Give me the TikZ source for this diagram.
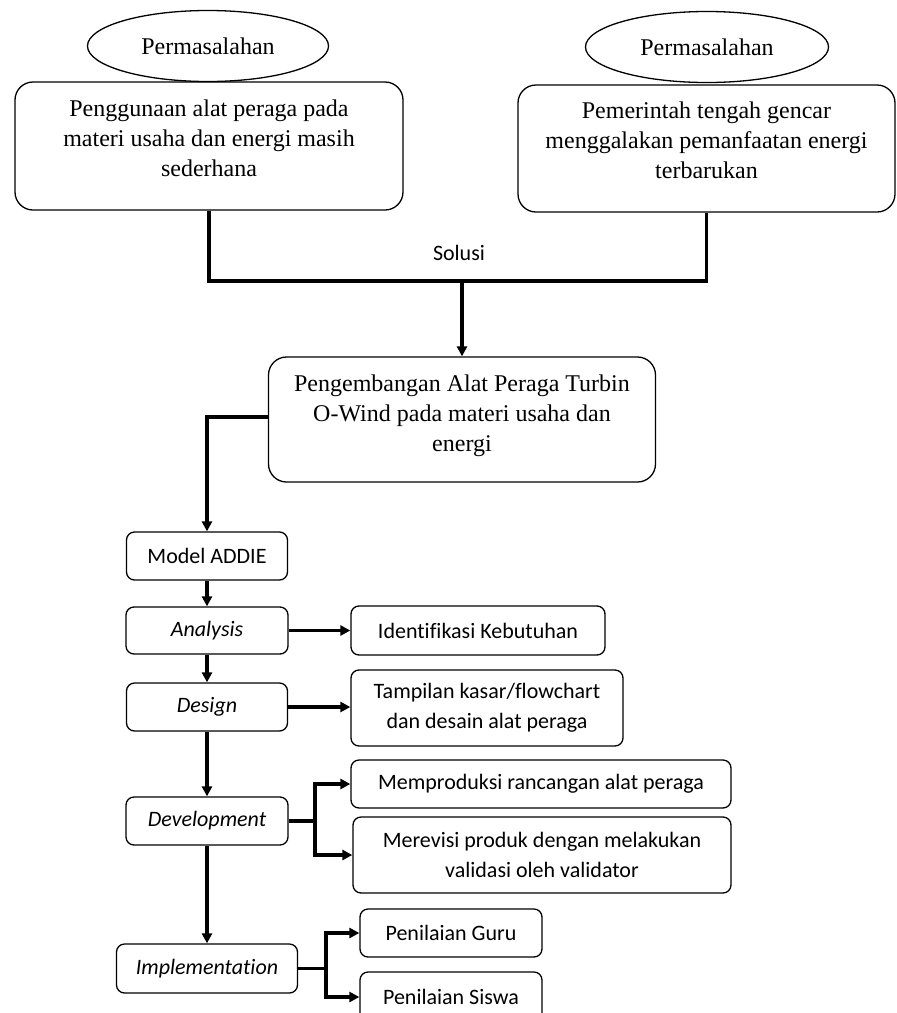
\documentclass[tikz,border=0pt]{standalone}
\usepackage{fontspec}
\setmainfont{Liberation Serif}
\newfontfamily\calib{Carlito}[Ligatures=NoCommon]
\usetikzlibrary{shapes.geometric,arrows.meta}
\newcommand{\liftup}[2]{\raisebox{#1}[\height][\depth]{\begin{tabular}{@{}c@{}}#2\end{tabular}}}
\tikzset{
  bigbox/.style={draw, line width=1.3pt, rounded corners=18pt, align=center,
    font=\fontsize{24}{30}\selectfont, inner sep=0pt},
  smallbox/.style={draw, line width=1.3pt, rounded corners=8pt, align=center,
    font=\calib\fontsize{22}{30}\selectfont, inner sep=0pt},
  oval/.style={draw, ellipse, line width=1.3pt, inner sep=0pt,
    font=\fontsize{24}{30}\selectfont},
  conn/.style={line width=3.2pt},
  arr/.style={conn, -{Triangle[length=10pt,width=10pt]}},
  lbl/.style={font=\calib\fontsize{22}{30}\selectfont, inner sep=0pt}
}
\begin{document}
\begin{tikzpicture}[x=1pt,y=-1pt]
\useasboundingbox (0,0) rectangle (897,1013);
\clip (0,0) rectangle (897,1013);
% top boxes
\node[bigbox, minimum width=388pt, minimum height=128pt] (b1) at (209,146)
  {\liftup{6pt}{Penggunaan alat peraga pada\\materi usaha dan energi masih\\sederhana}};
\node[bigbox, minimum width=377pt, minimum height=127pt] (b2) at (706.5,148.5)
  {\liftup{6pt}{Pemerintah tengah gencar\\menggalakan pemanfaatan energi\\terbarukan}};
\node[oval, minimum width=241pt, minimum height=71pt] (e1) at (208,46) {Permasalahan};
\node[oval, minimum width=243pt, minimum height=71pt] (e2) at (707,47) {Permasalahan};
% solution
\coordinate (j) at (462,281);
\node[lbl] (sol) at (459,253) {Solusi};
\node[bigbox, minimum width=387pt, minimum height=125pt] (b3) at (462,419.5)
  {\liftup{4pt}{Pengembangan Alat Peraga Turbin\\O-Wind pada materi usaha dan\\energi}};
% ADDIE column
\node[smallbox, minimum width=161pt, minimum height=48pt] (m) at (207,556) {Model ADDIE};
\node[smallbox, minimum width=162pt, minimum height=47pt] (an) at (207,630.5) {\itshape Analysis};
\node[smallbox, minimum width=161pt, minimum height=48pt] (de) at (207,707) {\itshape Design};
\node[smallbox, minimum width=162pt, minimum height=48pt] (dv) at (207,821) {\itshape Development};
\node[smallbox, minimum width=181pt, minimum height=49pt] (im) at (207,968.5) {\itshape Implementation};
% right column
\node[smallbox, minimum width=254pt, minimum height=49pt] (id) at (478,630.5) {Identifikasi Kebutuhan};
\node[smallbox, minimum width=272pt, minimum height=76pt] (tp) at (487,708)
  {Tampilan kasar/flowchart\\dan desain alat peraga};
\node[smallbox, minimum width=380pt, minimum height=48pt] (mp) at (541,784)
  {Memproduksi rancangan alat peraga};
\node[smallbox, minimum width=378pt, minimum height=76pt] (mr) at (542,855)
  {Merevisi produk dengan melakukan\\validasi oleh validator};
\node[smallbox, minimum width=182pt, minimum height=48pt] (pg) at (451,933) {Penilaian Guru};
\node[smallbox, minimum width=182pt, minimum height=50pt] (ps) at (451,997) {Penilaian Siswa};
% connectors
\draw[conn] (b1.south) |- (j) -| (b2.south);
\draw[arr] (j) -- (b3.north);
\draw[arr] (b3.west |- 0,417) -| (m.north);
\draw[arr] (m.south) -- (an.north);
\draw[arr] (an.south) -- (de.north);
\draw[arr] (de.south) -- (dv.north);
\draw[arr] (dv.south) -- (im.north);
\draw[arr] (an.east) -- (id.west);
\draw[arr] (de.east) -- (de.east -| tp.west);
\coordinate (dj) at (315,821);
\draw[conn] (dv.east) -- (dj);
\draw[arr] (dj) |- (mp.west);
\draw[arr] (dj) |- (mr.west);
\coordinate (ij) at (326,968.5);
\draw[conn] (im.east) -- (ij);
\draw[arr] (ij) |- (pg.west);
\draw[arr] (ij) |- (ps.west);
\end{tikzpicture}
\end{document}
